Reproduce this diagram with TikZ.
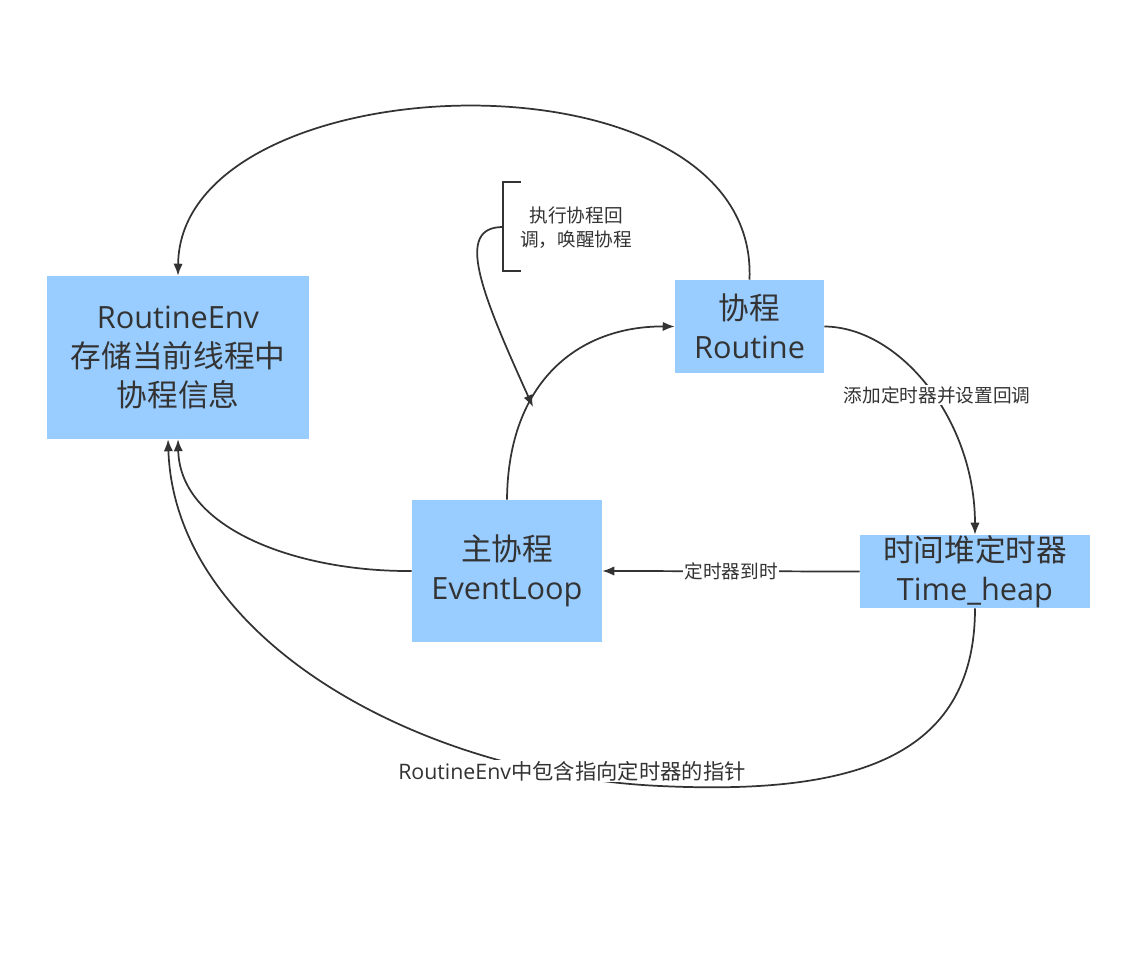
\documentclass[tikz,border=0pt]{standalone}
\usepackage{fontspec}
\setmainfont{Open Sans}
\newfontfamily\cjk{Noto Sans CJK SC}
\usetikzlibrary{arrows.meta,calc}
\definecolor{boxblue}{HTML}{99CCFF}
\definecolor{ink}{HTML}{333333}
\begin{document}
\begin{tikzpicture}[x=0.75pt,y=-0.75pt,
  box/.style={fill=boxblue,draw=none,align=center,text=ink,inner sep=0pt,
    font=\fontsize{23}{29}\selectfont},
  conn/.style={draw=ink,line width=1.3pt,-{Latex[length=9pt,width=7pt]}},
  plain/.style={draw=ink,line width=1.5pt},
  lbl/.style={fill=white,text=ink,inner sep=1pt,font=\fontsize{14}{18}\selectfont\cjk,align=center},
  biglbl/.style={fill=white,text=ink,inner sep=1pt,font=\fontsize{16}{20}\selectfont}]
\useasboundingbox (0,0) rectangle (1122,969);
\fill[white] (0,0) rectangle (1122,969);

\node[box,minimum width=196.5pt,minimum height=122.25pt] (renv) at (178,357.5)
  {RoutineEnv\\{\cjk 存储当前线程中}\\{\cjk 协程信息}};
\node[box,minimum width=111.75pt,minimum height=69.75pt] (rt) at (749.5,326.5)
  {{\cjk 协程}\\Routine};
\node[box,minimum width=142.5pt,minimum height=106.5pt] (el) at (507,571)
  {{\cjk 主协程}\\EventLoop};
\node[box,minimum width=172.5pt,minimum height=54.75pt] (th) at (975,571.5)
  {{\cjk 时间堆定时器}\\Time\_heap};

% Routine -> RoutineEnv (top arc)
\draw[conn] (rt.north) .. controls (760,40) and (180,60) .. (renv.north);
% Routine -> Time_heap
\draw[conn] (rt.east) .. controls (900,327) and (975,420) .. (th.north);
\node[lbl] (lblAdd) at (937,395) {添加定时器并设置回调};
% Time_heap -> EventLoop
\draw[conn] (th.west) -- node[lbl] (lblDue) {定时器到时} (el.east);
% EventLoop -> Routine
\draw[conn] (el.north) .. controls (508,380) and (580,326) .. (rt.west);
% EventLoop -> RoutineEnv
\draw[conn] (el.west) .. controls (300,572) and (180,530) .. (renv.south);
% Time_heap -> RoutineEnv (bottom)
\coordinate (mid) at (660,786);
\draw[conn] (th.south) .. controls (975,760) and (850,795) .. (mid)
  .. controls (420,775) and (175,640) .. ($(renv.south)+(-10,0)$);
\node[biglbl] (lblPtr) at (572,771) {RoutineEnv{\cjk 中包含指向定时器的指针}};

% annotation
\node[text=ink,align=center,inner sep=0pt,font=\fontsize{14}{18}\selectfont\cjk] (ann) at (576,228)
  {执行协程回\\调，唤醒协程};
\coordinate (brk) at (503,227);
\coordinate (annEnd) at (533,407);
\draw[plain] (521,182) -- (503,182) -- (503,271) -- (521,271);
\draw[conn] (brk) .. controls (455,227) and (480,290) .. (annEnd);
\end{tikzpicture}
\end{document}
